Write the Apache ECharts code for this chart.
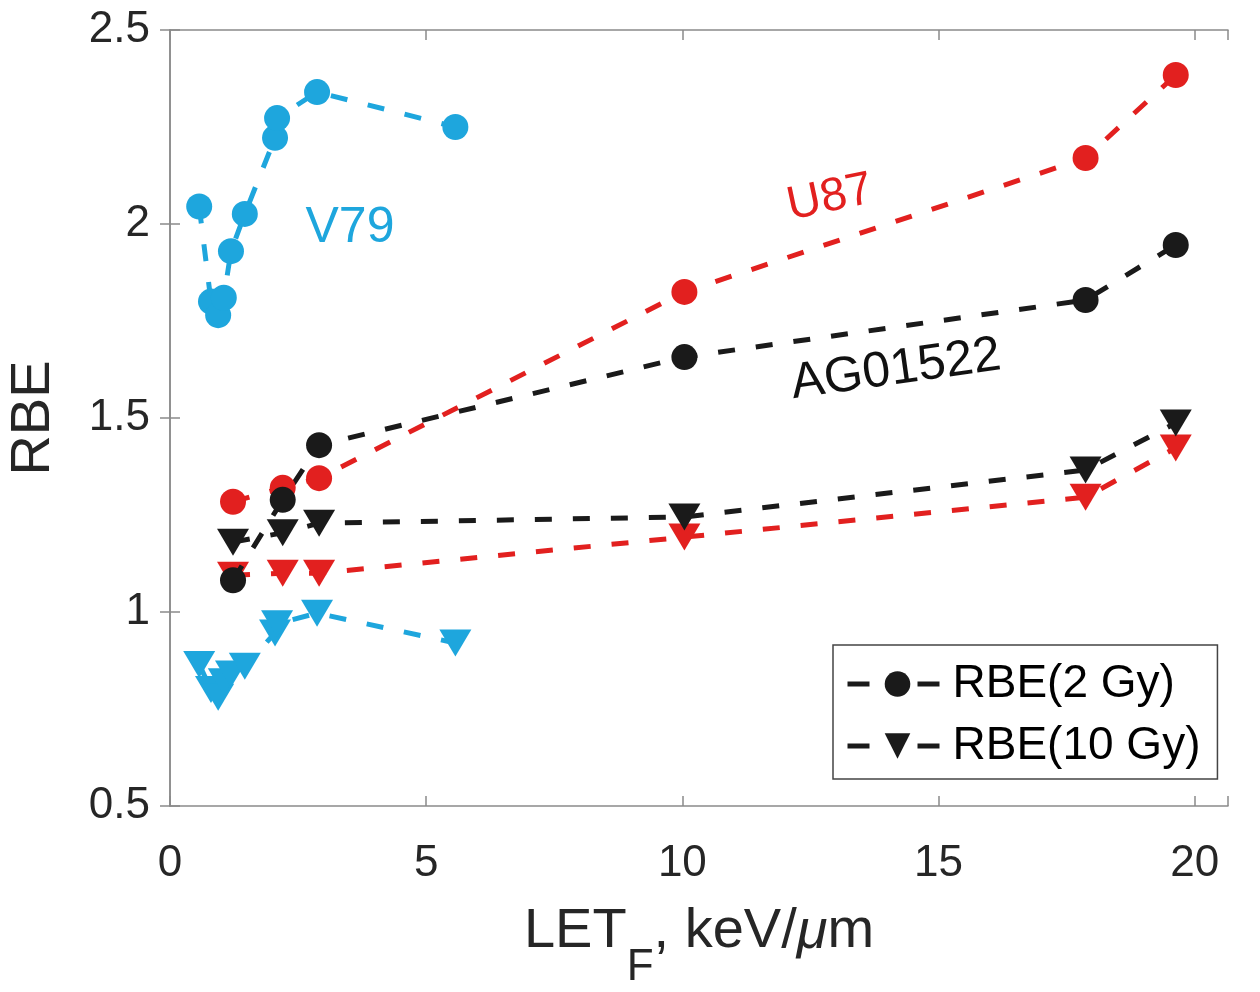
<!DOCTYPE html>
<html>
<head>
<meta charset="utf-8">
<script src="https://cdn.jsdelivr.net/npm/echarts@6/dist/echarts.min.js"></script>
<style>
  html, body { margin: 0; padding: 0; background: #fff; }
  #chart { width: 1260px; height: 992px; }
</style>
</head>
<body>
<div id="chart"></div>
<script>
// LET_F (keV/um) and RBE values
const v79Let = [0.57, 0.80, 0.94, 1.05, 1.19, 1.46, 2.05, 2.09, 2.87, 5.57];
const v79Rbe2 = [2.045, 1.80, 1.765, 1.81, 1.93, 2.026, 2.222, 2.273, 2.34, 2.25];
const v79Rbe10 = [0.865, 0.80, 0.78, 0.82, 0.84, 0.86, 0.946, 0.97, 0.997, 0.92];

const cellLet = [1.23, 2.2, 2.91, 10.04, 17.87, 19.63];
const u87Rbe2 = [1.284, 1.32, 1.345, 1.825, 2.17, 2.384];
const u87Rbe10 = [1.095, 1.10, 1.10, 1.193, 1.296, 1.423];
const agRbe2 = [1.082, 1.289, 1.43, 1.657, 1.804, 1.946];
const agRbe10 = [1.18, 1.204, 1.229, 1.245, 1.366, 1.487];

const yTicks = [0.5, 1, 1.5, 2, 2.5];

const CYAN = '#1ea6dd';
const RED = '#e2201f';
const BLACK = '#1a1a1a';
const AXIS = '#8a8a8a';
const FONT = '"Liberation Sans", Arial, sans-serif';

const pairs = (xs, ys) => xs.map((x, i) => [x, ys[i]]);

function series(name, xs, ys, color, tri) {
  return {
    name: name,
    type: 'line',
    data: pairs(xs, ys),
    symbol: tri ? 'triangle' : 'circle',
    symbolRotate: tri ? 180 : 0,
    symbolSize: tri ? [32, 27] : 26,
    lineStyle: { color: color, width: 5, type: [17, 21] },
    itemStyle: { color: color },
    emphasis: { disabled: true },
    animation: false,
    z: tri ? 3 : 4
  };
}

const tickStyle = { inside: true, length: 10, lineStyle: { color: AXIS, width: 1.5 } };

const chart = echarts.init(document.getElementById('chart'));

chart.setOption({
  backgroundColor: '#fff',
  animation: false,
  grid: { left: 170, top: 30, right: 32, bottom: 186, outerBoundsMode: 'none', containLabel: false },
  xAxis: [{
    type: 'value', min: 0, max: 20.65, interval: 5,
    name: 'LET{sub|F}, keV/{it|μ}m',
    nameLocation: 'middle', nameGap: 98,
    nameTextStyle: {
      fontFamily: FONT, fontSize: 56, color: '#262626',
      rich: {
        sub: { fontFamily: FONT, fontSize: 44, color: '#262626', verticalAlign: 'bottom', padding: [0, 0, -30, 0] },
        it: { fontFamily: FONT, fontSize: 56, color: '#262626', fontStyle: 'italic' }
      }
    },
    axisLine: { lineStyle: { color: AXIS, width: 1.5 } },
    axisTick: tickStyle,
    axisLabel: {
      fontFamily: FONT, fontSize: 44, color: '#262626', margin: 36,
      formatter: v => (v > 20.1 ? '' : String(v))
    },
    splitLine: { show: false }
  }, {
    type: 'value', position: 'top', min: 0, max: 20.65, interval: 5,
    axisLine: { lineStyle: { color: AXIS, width: 1.5 } },
    axisTick: tickStyle,
    axisLabel: { show: false },
    splitLine: { show: false }
  }],
  yAxis: [{
    type: 'value', min: 0.5, max: 2.5, interval: 0.5,
    name: 'RBE', nameLocation: 'middle', nameGap: 108, nameRotate: 90,
    nameTextStyle: { fontFamily: FONT, fontSize: 56, color: '#262626' },
    axisLine: { show: true, lineStyle: { color: AXIS, width: 1.5 } },
    axisTick: Object.assign({ show: true }, tickStyle),
    axisLabel: {
      fontFamily: FONT, fontSize: 44, color: '#262626', margin: 20,
      formatter: v => (yTicks.indexOf(v) >= 0 ? String(v) : '')
    },
    splitLine: { show: false }
  }, {
    type: 'value', position: 'right', min: 0.5, max: 2.5, interval: 0.5,
    axisLine: { show: true, lineStyle: { color: AXIS, width: 1.5 } },
    axisTick: Object.assign({ show: true }, tickStyle),
    axisLabel: { show: false },
    splitLine: { show: false }
  }],
  legend: {
    orient: 'vertical',
    left: 833, top: 645,
    padding: [16, 17, 10, 12],
    itemWidth: 100, itemHeight: 32, itemGap: 16,
    borderColor: '#444', borderWidth: 1.5,
    backgroundColor: '#fff',
    selectedMode: false,
    lineStyle: { width: 5, type: [22, 48], color: BLACK },
    textStyle: { fontFamily: FONT, fontSize: 46, color: '#000' },
    data: ['RBE(2 Gy)', 'RBE(10 Gy)']
  },
  series: [
    series('V79 2', v79Let, v79Rbe2, CYAN, false),
    series('V79 10', v79Let, v79Rbe10, CYAN, true),
    series('U87 10', cellLet, u87Rbe10, RED, true),
    series('AG 10', cellLet, agRbe10, BLACK, true),
    series('U87 2', cellLet, u87Rbe2, RED, false),
    series('AG 2', cellLet, agRbe2, BLACK, false),
    series('RBE(2 Gy)', [], [], BLACK, false),
    series('RBE(10 Gy)', [], [], BLACK, true)
  ],
  graphic: [
    { type: 'text', x: 350, y: 228,
      style: { text: 'V79', fontFamily: FONT, fontSize: 50, fill: CYAN, align: 'center', verticalAlign: 'middle' } },
    { type: 'text', x: 830, y: 198, rotation: 12 * Math.PI / 180,
      style: { text: 'U87', fontFamily: FONT, fontSize: 47, fill: RED, align: 'center', verticalAlign: 'middle' } },
    { type: 'text', x: 896, y: 370, rotation: 8 * Math.PI / 180,
      style: { text: 'AG01522', fontFamily: FONT, fontSize: 50, fill: '#111', align: 'center', verticalAlign: 'middle' } }
  ]
});
</script>
</body>
</html>
